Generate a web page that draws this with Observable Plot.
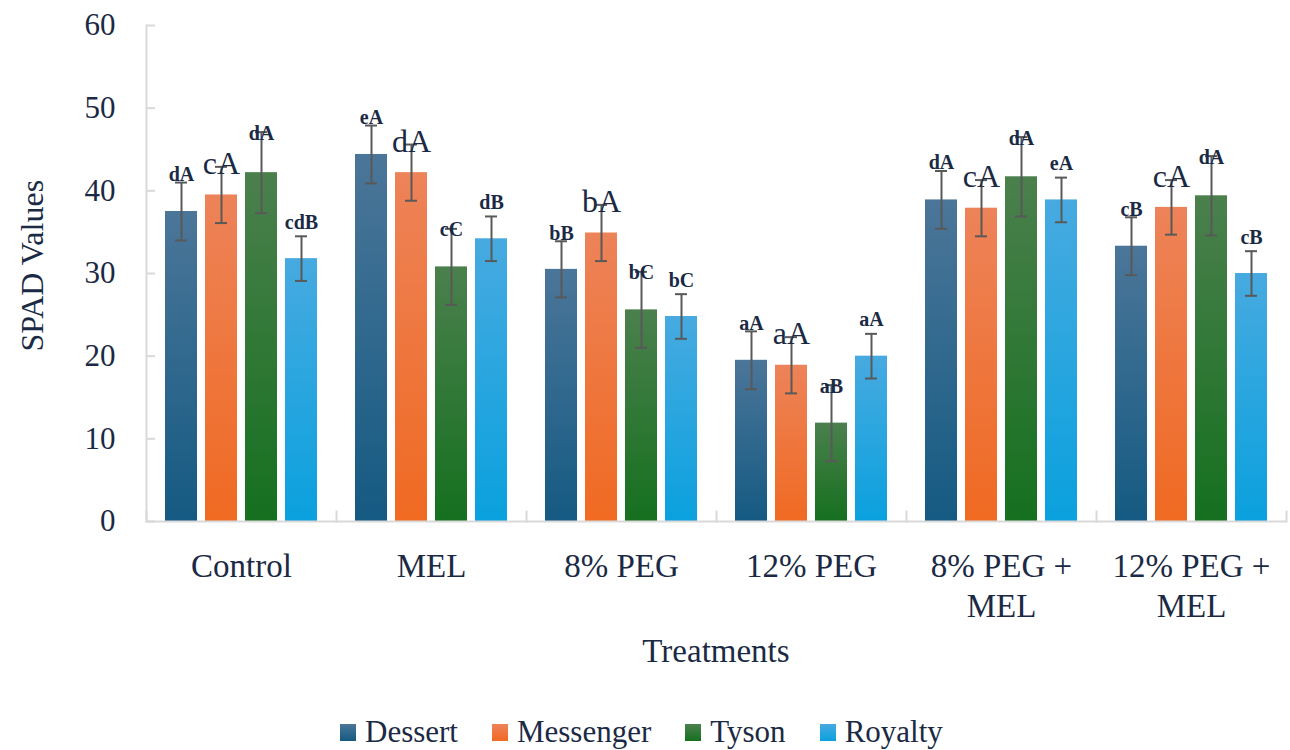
<!DOCTYPE html>
<html>
<head>
<meta charset="utf-8">
<script src="https://cdn.jsdelivr.net/npm/d3@7"></script>
<script src="https://cdn.jsdelivr.net/npm/@observablehq/plot@0.6"></script>
<style>
  body { margin: 0; background: #fff; }
  #chart { position: relative; width: 1290px; height: 750px; }
  #chart, #chart svg, #chart svg text, #legend, #xtitle { font-family: "Liberation Serif", "DejaVu Serif", serif !important; }
  #legend { position: absolute; left: 340px; top: 714px; display: flex; align-items: center; font-size: 31px; color: #1b2a44; line-height: 36px; }
  #legend .item { display: flex; align-items: center; margin-right: 34px; }
  #legend .sw { width: 16px; height: 17px; margin-right: 9px; }
  #xtitle { position: absolute; left: 144px; width: 1144px; top: 632px; text-align: center; font-size: 33px; line-height: 38px; color: #1b2a44; }
</style>
</head>
<body>
<div id="chart"></div>
<script>
const treatments = ["Control", "MEL", "8% PEG", "12% PEG", "8% PEG + MEL", "12% PEG + MEL"];
const tickLabels = ["Control", "MEL", "8% PEG", "12% PEG", "8% PEG +\nMEL", "12% PEG +\nMEL"];
const varieties = ["Dessert", "Messenger", "Tyson", "Royalty"];

const dessert   = [37.5, 44.4, 30.5, 19.5, 38.9, 33.3];
const messenger = [39.5, 42.2, 34.9, 18.9, 37.9, 38.0];
const tyson     = [42.2, 30.8, 25.6, 11.9, 41.7, 39.4];
const royalty   = [31.8, 34.2, 24.8, 20.0, 38.9, 30.0];

const dessertErr   = [3.5, 3.5, 3.4, 3.5, 3.5, 3.5];
const messengerErr = [3.4, 3.4, 3.4, 3.4, 3.4, 3.3];
const tysonErr     = [4.9, 4.6, 4.6, 4.6, 4.8, 4.8];
const royaltyErr   = [2.7, 2.7, 2.7, 2.7, 2.7, 2.7];

const dessertSig   = ["dA", "eA", "bB", "aA", "dA", "cB"];
const messengerSig = ["cA", "dA", "bA", "aA", "cA", "cA"];
const tysonSig     = ["dA", "cC", "bC", "aB", "dA", "dA"];
const royaltySig   = ["cdB", "dB", "bC", "aA", "eA", "cB"];

const yTicks = [0, 10, 20, 30, 40, 50, 60];
const yTitle = "SPAD Values";
const xTitle = "Treatments";

const gradTop    = ["#4b7699", "#ed8359", "#4b804d", "#47aae0"];
const gradBottom = ["#155a82", "#f06a22", "#15701f", "#0aa1de"];

const series = [
  [dessert, dessertErr, dessertSig],
  [messenger, messengerErr, messengerSig],
  [tyson, tysonErr, tysonSig],
  [royalty, royaltyErr, royaltySig]
];
const rows = [];
series.forEach(([vals, errs, sigs], vi) => {
  vals.forEach((v, ti) => {
    rows.push({treatment: treatments[ti], variety: varieties[vi], value: v, lo: v - errs[ti], hi: v + errs[ti], sig: sigs[ti]});
  });
});

const serif = '"Liberation Serif", "DejaVu Serif", serif';
const textColor = "#1b2a44";
const axisGray = "#d9d9d9";
const gradIds = varieties.map((v, i) => `url(#grad${i})`);
const labelFor = Object.fromEntries(treatments.map((t, i) => [t, tickLabels[i]]));

const chart = Plot.plot({
  width: 1290,
  height: 700,
  marginTop: 25,
  marginLeft: 144,
  marginRight: 2,
  marginBottom: 179,
  style: {fontFamily: serif, color: textColor, background: "#fff"},
  fx: {domain: treatments, padding: 0},
  x: {domain: varieties, paddingInner: 0.2, paddingOuter: 0.42, axis: null},
  y: {domain: [0, 60], axis: null},
  color: {domain: varieties, range: gradIds},
  marks: [
    Plot.barY(rows, {fx: "treatment", x: "variety", y: "value", fill: "variety"}),
    Plot.ruleY([0], {stroke: axisGray, strokeWidth: 2}),
    Plot.frame({anchor: "left", facetAnchor: "left", stroke: axisGray, strokeWidth: 2}),
    Plot.frame({anchor: "left", insetTop: 486, stroke: axisGray, strokeWidth: 2}),
    Plot.frame({anchor: "right", insetTop: 486, facetAnchor: "right", stroke: axisGray, strokeWidth: 2}),
    Plot.axisY({ticks: yTicks, tickSize: -9, tickPadding: 40, stroke: axisGray, strokeWidth: 2, fontSize: 31, fontFamily: serif, label: null, tickFormat: d => d, color: textColor}),
    Plot.text([yTitle], {frameAnchor: "left", facetAnchor: "left", dx: -114, dy: 78, rotate: -90, fontSize: 32, fontFamily: serif, fill: textColor}),
    Plot.axisFx({anchor: "bottom", tickSize: 0, tickPadding: 28, fontSize: 33, fontFamily: serif, lineHeight: 1.19, tickFormat: d => labelFor[d], label: null, color: textColor}),
    Plot.ruleX(rows, {fx: "treatment", x: "variety", y1: "lo", y2: "hi", stroke: "#595959", strokeWidth: 2}),
    Plot.tickY(rows, {fx: "treatment", x: "variety", y: "hi", stroke: "#595959", strokeWidth: 2, insetLeft: 10, insetRight: 10}),
    Plot.tickY(rows, {fx: "treatment", x: "variety", y: "lo", stroke: "#595959", strokeWidth: 2, insetLeft: 10, insetRight: 10}),
    Plot.text(rows.filter(d => d.variety === "Dessert"), {fx: "treatment", x: "variety", y: "hi", text: "sig", fontSize: 20, fontWeight: "bold", fontFamily: serif, fill: textColor, dy: -8}),
    Plot.text(rows.filter(d => d.variety === "Messenger"), {fx: "treatment", x: "variety", y: "hi", text: "sig", fontSize: 32, fontFamily: serif, fill: textColor, dy: -3}),
    Plot.text(rows.filter(d => d.variety === "Tyson"), {fx: "treatment", x: "variety", y: "hi", text: "sig", fontSize: 20, fontWeight: "bold", fontFamily: serif, fill: textColor, dy: 1}),
    Plot.text(rows.filter(d => d.variety === "Royalty"), {fx: "treatment", x: "variety", y: "hi", text: "sig", fontSize: 20, fontWeight: "bold", fontFamily: serif, fill: textColor, dy: -14})
  ]
});

// gradient definitions
const defs = d3.select(chart).insert("defs", ":first-child");
varieties.forEach((v, i) => {
  const g = defs.append("linearGradient").attr("id", `grad${i}`).attr("x1", 0).attr("y1", 0).attr("x2", 0).attr("y2", 1);
  g.append("stop").attr("offset", "0%").attr("stop-color", gradTop[i]);
  g.append("stop").attr("offset", "100%").attr("stop-color", gradBottom[i]);
});

const container = document.getElementById("chart");
container.appendChild(chart);

// x title
const xt = document.createElement("div");
xt.id = "xtitle";
xt.textContent = xTitle;
container.appendChild(xt);

// legend
const legend = document.createElement("div");
legend.id = "legend";
varieties.forEach((v, i) => {
  const item = document.createElement("div");
  item.className = "item";
  const sw = document.createElement("span");
  sw.className = "sw";
  sw.style.background = `linear-gradient(${gradTop[i]}, ${gradBottom[i]})`;
  const lab = document.createElement("span");
  lab.textContent = v;
  item.appendChild(sw);
  item.appendChild(lab);
  legend.appendChild(item);
});
container.appendChild(legend);
</script>
</body>
</html>
